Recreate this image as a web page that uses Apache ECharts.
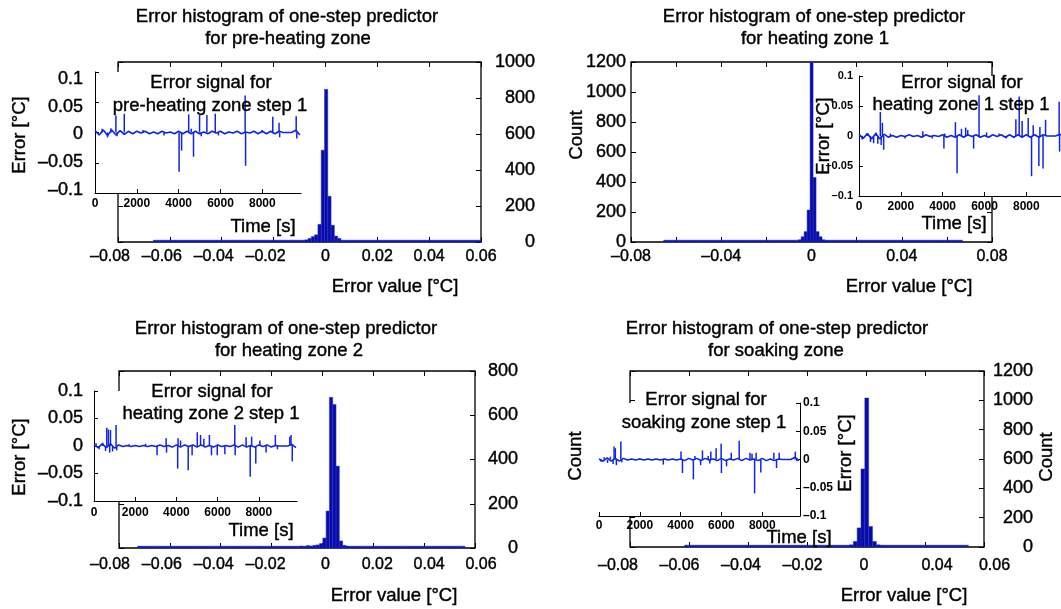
<!DOCTYPE html>
<html>
<head>
<meta charset="utf-8">
<script src="https://cdn.jsdelivr.net/npm/echarts@6/dist/echarts.min.js"></script>
<style>
  html, body { margin: 0; padding: 0; background: #fff; }
  #chart { width: 1061px; height: 609px; }
</style>
</head>
<body>
<div id="chart"></div>
<script>
// ---- data ----
const timeTicks = [0, 2000, 4000, 6000, 8000];
const errTicks = [-0.1, -0.05, 0, 0.05, 0.1];
const baseT = [0, 200, 400, 600, 800, 1000, 1200, 1400, 1600, 1800, 2000, 2200, 2400, 2600, 2800,
  3000, 3200, 3400, 3600, 3800, 4000, 4200, 4400, 4600, 4800, 5000, 5200, 5400, 5600, 5800,
  6000, 6200, 6400, 6600, 6800, 7000, 7200, 7400, 7600, 7800, 8000, 8200, 8400, 8600, 8800,
  9000, 9200, 9400, 9600, 9800];

// pre-heating zone
const xTicks1 = [-0.08, -0.06, -0.04, -0.02, 0, 0.02, 0.04, 0.06];
const yTicks1 = [0, 200, 400, 600, 800, 1000];
const binStart1 = -0.0664, binWidth1 = 0.00127;
const counts1 = [1, 0, 0, 1, 0, 0, 0, 1, 0, 0, 0, 1, 0, 0, 0, 0, 1, 0, 0, 0,
  0, 0, 1, 0, 0, 0, 0, 1, 0, 0, 0, 1, 0, 0, 1, 0, 0, 1, 0, 1,
  1, 2, 2, 3, 5, 8, 12, 20, 30, 40, 98, 510, 848, 254, 93, 33, 20, 10, 6, 7,
  5, 6, 4, 3, 2, 2, 1, 1, 2, 1, 0, 1, 0, 0, 1, 0, 0, 1, 0, 0,
  0, 0, 1, 0, 0, 0, 1, 0, 0, 0, 1, 0, 0, 0, 0, 1, 0, 0, 0, 1];
const base1 = [0.003, -0.004, 0.004, -0.005, 0.004, -0.004, 0.003, -0.003, 0.002, -0.002,
  0.002, -0.001, 0.002, -0.002, 0.001, -0.002, 0.002, -0.001, 0.001, -0.002,
  0.002, -0.002, 0.002, -0.002, 0.002, -0.002, 0.001, -0.002, 0.002, -0.001,
  0.002, -0.002, 0.001, -0.001, 0.002, -0.002, 0.001, -0.001, 0.002, -0.002,
  0.002, -0.002, 0.002, -0.002, 0.002, 0, 0, 0, 0.004, -0.004];
const spikes1 = [[340, 0.006], [600, -0.008], [760, 0.007], [1000, 0.028], [1050, -0.006],
  [1400, 0.031], [2300, 0.004], [3300, -0.005], [4020, -0.065], [4140, -0.030], [4480, 0.030],
  [4600, 0.006], [4710, -0.040], [5000, 0.029], [5080, -0.006], [5350, 0.029], [5750, 0.031],
  [5900, -0.005], [7180, 0.061], [7200, -0.055], [8000, 0.004], [8500, 0.026], [8800, 0.016],
  [8830, -0.008], [9620, 0.027], [9650, -0.010]];

// heating zone 1
const xTicks2 = [-0.08, -0.06, -0.04, -0.02, 0, 0.02, 0.04, 0.06, 0.08];
const xLabels2 = [-0.08, -0.04, 0, 0.04, 0.08];
const yTicks2 = [0, 200, 400, 600, 800, 1000, 1200];
const binStart2 = -0.0655, binWidth2 = 0.001324;
const counts2 = [1, 0, 0, 0, 1, 0, 0, 0, 0, 1, 0, 0, 0, 1, 0, 0, 0, 0, 1, 0,
  0, 0, 1, 0, 0, 0, 0, 1, 0, 0, 1, 0, 0, 0, 1, 0, 0, 1, 0, 1,
  1, 2, 3, 5, 8, 15, 35, 69, 213, 1290, 430, 69, 35, 15, 8, 5, 4, 3, 2, 1,
  1, 0, 1, 0, 0, 1, 0, 0, 0, 1, 0, 0, 1, 0, 0, 0, 1, 0, 0, 0,
  0, 1, 0, 0, 0, 1, 0, 0, 1, 0, 0, 0, 0, 1, 0, 0, 0, 1, 0, 1];
const base2 = [0.003, -0.004, 0.004, -0.005, 0.004, -0.005, 0.003, -0.002, 0.001, -0.002,
  0.001, -0.001, 0.002, -0.001, 0.001, -0.002, 0.002, -0.001, 0.001, -0.001,
  0.002, -0.002, 0.001, -0.002, 0.002, -0.002, 0.002, -0.001, 0.002, -0.002,
  0.001, -0.002, 0.002, -0.001, 0.002, -0.002, 0.002, -0.002, 0.002, -0.002,
  0.002, -0.002, 0.002, -0.002, 0.002, 0, 0, 0, 0.003, -0.003];
const spikes2 = [[150, -0.006], [400, 0.005], [550, -0.010], [700, -0.012], [820, 0.006],
  [900, -0.013], [1020, 0.040], [1060, -0.015], [1120, 0.022], [1180, -0.023], [1500, 0.004],
  [2200, -0.004], [3050, 0.008], [3500, -0.004], [4060, -0.021], [4100, 0.004], [4610, 0.023],
  [4690, -0.062], [4900, 0.012], [5100, 0.014], [5200, 0.010], [5480, -0.021], [5740, 0.068],
  [6100, 0.006], [6700, 0.004], [7050, -0.004], [7500, 0.028], [7660, 0.066], [7800, 0.025],
  [8090, 0.030], [8250, -0.067], [8330, 0.018], [8600, -0.050], [8650, 0.015], [8800, -0.054],
  [8920, 0.027], [9570, 0.057], [9590, -0.026]];

// heating zone 2
const xTicks3 = [-0.08, -0.06, -0.04, -0.02, 0, 0.02, 0.04, 0.06];
const yTicks3 = [0, 200, 400, 600, 800];
const binStart3 = -0.07265, binWidth3 = 0.0013;
const counts3 = [1, 0, 0, 1, 0, 0, 0, 1, 0, 0, 0, 0, 1, 0, 0, 0, 1, 0, 0, 0,
  1, 0, 0, 0, 0, 1, 0, 0, 1, 0, 0, 4, 1, 0, 0, 1, 0, 1, 0, 1,
  0, 1, 1, 0, 2, 1, 2, 3, 6, 9, 8, 11, 9, 12, 14, 20, 45, 167, 681, 649,
  370, 32, 12, 9, 8, 6, 7, 5, 6, 4, 5, 3, 4, 3, 2, 1, 1, 0, 1, 0,
  0, 1, 0, 0, 0, 1, 0, 0, 1, 0, 0, 0, 1, 0, 0, 0, 1, 0, 1];
const base3 = [0.002, -0.003, 0.004, -0.003, 0.004, -0.004, 0.002, -0.001, 0.001, -0.001,
  0.001, -0.001, 0.001, -0.001, 0.001, -0.001, 0.002, -0.001, 0.001, -0.002,
  0.002, -0.002, 0.002, -0.001, 0.002, -0.002, 0.002, -0.002, 0.001, -0.002,
  0.002, -0.001, 0.001, -0.001, 0.002, -0.002, 0.002, -0.002, 0.001, -0.002,
  0.002, -0.001, 0.002, -0.002, 0.001, 0, 0, 0, 0.003, -0.003];
const spikes3 = [[100, 0.005], [250, -0.006], [420, 0.006], [560, -0.009], [620, 0.033],
  [700, 0.030], [760, -0.012], [800, 0.029], [900, -0.010], [1070, 0.038], [1100, -0.008],
  [1700, 0.003], [2500, 0.004], [3060, -0.017], [3500, 0.014], [3520, -0.012], [4060, -0.041],
  [4080, 0.014], [4200, 0.010], [4570, -0.044], [4760, -0.017], [5010, 0.025], [5170, 0.020],
  [5330, 0.013], [5600, 0.020], [5700, -0.017], [5980, -0.017], [6350, -0.015], [6830, 0.038],
  [6850, -0.017], [7380, 0.016], [7580, -0.056], [7650, 0.017], [7850, -0.032], [8050, 0.010],
  [8350, -0.012], [8800, 0.020], [8900, -0.006], [9500, 0.017], [9560, 0.020], [9620, -0.028]];

// soaking zone
const xTicks4 = [-0.08, -0.06, -0.04, -0.02, 0, 0.02, 0.04];
const xLabels4a = [-0.08, -0.06, -0.04, -0.02, 0];
const xLabels4b = [0.04, 0.06];
const yTicks4 = [0, 200, 400, 600, 800, 1000, 1200];
const binStart4 = -0.0615, binWidth4 = 0.0013;
const counts4 = [1, 0, 0, 1, 0, 0, 0, 1, 0, 0, 0, 1, 0, 0, 0, 0, 1, 0, 0, 0,
  1, 0, 0, 0, 1, 0, 0, 1, 0, 0, 0, 1, 0, 0, 1, 0, 1, 0, 1, 1,
  2, 4, 8, 15, 38, 130, 532, 1016, 140, 38, 15, 8, 6, 4, 3, 2, 2, 1, 1, 0,
  1, 0, 0, 1, 0, 0, 0, 1, 0, 0, 1, 0, 0, 1];
const base4 = [0.001, -0.003, 0.003, -0.003, 0.002, -0.003, 0.002, -0.001, 0.001, -0.001,
  0.001, -0.001, 0.001, -0.001, 0.001, -0.001, 0.001, -0.001, 0.001, -0.001,
  0.001, -0.002, 0.002, -0.001, 0.002, -0.002, 0.002, -0.001, 0.001, -0.002,
  0.002, -0.002, 0.001, -0.001, 0.002, -0.002, 0.002, -0.001, 0.001, -0.002,
  0.002, -0.002, 0.001, -0.002, 0.001, 0, 0, 0, 0.004, -0.002];
const spikes4 = [[100, -0.004], [250, 0.004], [420, -0.006], [560, 0.005], [690, -0.008],
  [740, 0.023], [800, 0.020], [850, -0.010], [1070, 0.032], [1120, -0.005], [2000, 0.002],
  [3150, -0.009], [4020, 0.014], [4090, -0.024], [4625, -0.035], [4700, 0.006], [4980, -0.010],
  [5070, 0.016], [5350, 0.006], [5430, -0.007], [5480, 0.014], [5740, 0.020], [5985, 0.028],
  [6000, -0.024], [6250, -0.012], [6480, 0.012], [6870, 0.033], [7400, 0.012], [7500, 0.010],
  [7625, -0.060], [7700, 0.012], [7930, -0.023], [8570, 0.012], [8700, -0.015], [8830, 0.012],
  [9620, 0.014], [9700, -0.003]];

// ---- drawing ----
const font = '"Liberation Sans", Arial, Helvetica, sans-serif';
const barFill = '#0b0ba6';
const barEdge = '#1f33d2';
const lineBlue = '#1024e6';
// the original's text is a little heavier than a plain regular face
const ink = { color: '#000', textBorderColor: '#000', textBorderWidth: 0.4 };

const grids = [], xAxes = [], yAxes = [], series = [], texts = [];

function addGrid(g) {
  grids.push(Object.assign({ containLabel: false, outerBoundsMode: 'none' }, g));
  return grids.length - 1;
}
function addX(a) { xAxes.push(a); return xAxes.length - 1; }
function addY(a) { yAxes.push(a); return yAxes.length - 1; }

function fmt(v) {
  if (Math.abs(v) < 1e-9) return '0';
  const s = String(+Math.abs(v).toFixed(3));
  return v < 0 ? '\u2013' + s : s;
}
// negative labels sit a bit left of their tick in the original
function fmtShift(v) {
  const s = fmt(v);
  return v < -1e-9 ? '{n|' + s + '}' : s;
}
function plain(v) { return String(v); }

function bins(start, width, counts) {
  return counts.map((c, i) => [start + i * width, start + (i + 1) * width, c]);
}

function renderBin(params, api) {
  const cs = params.coordSys;
  const a = api.coord([api.value(0), 0]);
  const b = api.coord([api.value(1), api.value(2)]);
  const x0 = Math.max(a[0], cs.x);
  const x1 = Math.min(b[0], cs.x + cs.width);
  if (x1 <= x0) return;
  const top = Math.max(b[1], cs.y);
  const h = Math.max(a[1] - top, 1.8); // empty bins still show as a thin edge
  return {
    type: 'rect',
    shape: { x: x0, y: a[1] - h, width: x1 - x0, height: h },
    style: { fill: barFill, stroke: barEdge, lineWidth: 0.5 }
  };
}

const hidden = { show: false, onZero: false };
const tick = (vals, len) => ({ show: true, inside: true, length: len, customValues: vals, lineStyle: { color: '#000', width: 1 } });
const richNeg = { n: Object.assign({ fontSize: 16, fontFamily: font, padding: [0, 16, 0, 0] }, ink) };

function histPanel(p) {
  const gi = addGrid({ left: p.left, top: p.top, width: p.width, height: p.height, show: true,
    borderColor: '#000', borderWidth: 1.3, backgroundColor: 'transparent', z: 1 });
  let label = { show: false };
  if (p.xLabels) {
    label = Object.assign({ show: true, customValues: p.xLabels, margin: p.xMargin, fontSize: 16,
      fontFamily: font, formatter: p.shiftNeg ? fmtShift : fmt, rich: richNeg }, ink);
  }
  const xi = addX({ type: 'value', gridIndex: gi, min: p.xMin, max: p.xMax, position: 'bottom', z: 1,
    axisLine: hidden, splitLine: { show: false }, axisTick: tick(p.xTicks, 5), axisLabel: label });
  addX({ type: 'value', gridIndex: gi, min: p.xMin, max: p.xMax, position: 'top', z: 1,
    axisLine: hidden, splitLine: { show: false }, axisTick: tick(p.xTicks, 5), axisLabel: { show: false } });
  const yi = addY({ type: 'value', gridIndex: gi, min: 0, max: p.yMax, position: p.ySide, z: 1,
    axisLine: hidden, splitLine: { show: false }, axisTick: tick(p.yTicks, 5),
    axisLabel: Object.assign({ show: true, customValues: p.yTicks, margin: p.yMargin, align: 'right',
      fontSize: 18, fontFamily: font, formatter: plain }, ink) });
  addY({ type: 'value', gridIndex: gi, min: 0, max: p.yMax, position: p.ySide === 'left' ? 'right' : 'left', z: 1,
    axisLine: hidden, splitLine: { show: false }, axisTick: tick(p.yTicks, 5), axisLabel: { show: false } });
  series.push({ type: 'custom', xAxisIndex: xi, yAxisIndex: yi, z: 2, renderItem: renderBin,
    data: bins(p.binStart, p.binWidth, p.counts) });
}

// extra axis carrying only tick labels where the original labels drift off the box ticks
function labelAxis(p) {
  const gi = addGrid({ left: p.left, top: p.top, width: p.width, height: p.height, show: false });
  addX({ type: 'value', gridIndex: gi, min: p.min, max: p.max, position: 'bottom', z: 3,
    axisLine: hidden, axisTick: { show: false }, splitLine: { show: false },
    axisLabel: Object.assign({ show: true, customValues: p.values, margin: p.margin, fontSize: 16,
      fontFamily: font, formatter: p.shiftNeg ? fmtShift : fmt, rich: richNeg }, ink) });
  addY({ type: 'value', gridIndex: gi, min: 0, max: 1, show: false });
}

function insetPanel(p) {
  const gi = addGrid({ left: p.left, top: p.top, width: p.width, height: p.height, show: true,
    backgroundColor: '#fff', borderWidth: 0, z: 5 });
  const axLine = { show: true, onZero: false, lineStyle: { color: '#000', width: 1 } };
  const big = p.yFont >= 16;
  const yLabel = Object.assign({ show: true, customValues: errTicks, margin: p.yMargin, fontSize: p.yFont,
    fontWeight: big ? 'normal' : 'bold', fontFamily: font, formatter: fmt,
    align: p.ySide === 'right' ? 'left' : 'right' }, big ? ink : { color: '#000' });
  const xi = addX({ type: 'value', gridIndex: gi, min: 0, max: 9850, position: 'bottom', z: 6,
    axisLine: axLine, splitLine: { show: false }, axisTick: tick(timeTicks, 4),
    axisLabel: { show: true, customValues: timeTicks, margin: p.xMargin, color: '#000', fontSize: 12,
      fontWeight: 'bold', fontFamily: font, formatter: plain } });
  const yi = addY({ type: 'value', gridIndex: gi, min: -0.1, max: 0.1, position: p.ySide, z: 6,
    axisLine: axLine, splitLine: { show: false }, axisTick: tick(errTicks, 4),
    axisLabel: p.labelRange ? { show: false } : yLabel });
  if (p.labelRange) {
    // the original's tick labels are squeezed a little closer than its ticks
    addY({ type: 'value', gridIndex: gi, min: p.labelRange[0], max: p.labelRange[1], position: p.ySide, z: 6,
      axisLine: hidden, axisTick: { show: false }, splitLine: { show: false }, axisLabel: yLabel });
  }
  series.push({ type: 'line', xAxisIndex: xi, yAxisIndex: yi, z: 7, symbol: 'none', clip: true,
    lineStyle: { color: lineBlue, width: 1.6 }, data: baseT.map((t, i) => [t, p.base[i]]) });
  series.push({ type: 'bar', xAxisIndex: xi, yAxisIndex: yi, z: 7, barWidth: 1.5,
    itemStyle: { color: lineBlue }, data: p.spikes });
}

function text(str, x, y, rot) {
  texts.push({ type: 'text', x: x, y: y, rotation: rot ? Math.PI / 2 : 0, z: 100,
    style: { text: str, fill: '#000', stroke: '#000', lineWidth: 0.4, font: '18.5px ' + font,
      align: 'center', verticalAlign: 'middle' } });
}

// top-left: pre-heating zone
histPanel({ left: 118, top: 62, width: 363, height: 180, xMin: -0.08, xMax: 0.06, xTicks: xTicks1,
  xLabels: xTicks1, xMargin: 7, shiftNeg: true, yMax: 1000, yTicks: yTicks1, ySide: 'right', yMargin: 54,
  binStart: binStart1, binWidth: binWidth1, counts: counts1 });
insetPanel({ left: 95, top: 72, width: 206, height: 121, ySide: 'left', yMargin: 12, yFont: 18, xMargin: 5,
  labelRange: [-0.1054, 0.1126], base: base1, spikes: spikes1 });
text('Error histogram of one-step predictor', 287, 17);
text('for pre-heating zone', 288, 39);
text('Error signal for', 211, 83);
text('pre-heating zone step 1', 210, 106);
text('Time [s]', 263, 227);
text('Error value [\u00b0C]', 395, 287);
text('Error [\u00b0C]', 20, 135, true);

// top-right: heating zone 1
histPanel({ left: 631, top: 62, width: 361, height: 180, xMin: -0.08, xMax: 0.08, xTicks: xTicks2,
  xLabels: xLabels2, xMargin: 7, shiftNeg: false, yMax: 1200, yTicks: yTicks2, ySide: 'left', yMargin: 5,
  binStart: binStart2, binWidth: binWidth2, counts: counts2 });
insetPanel({ left: 859, top: 76, width: 206, height: 120, ySide: 'left', yMargin: 6, yFont: 11, xMargin: 5,
  base: base2, spikes: spikes2 });
text('Error histogram of one-step predictor', 814, 17);
text('for heating zone 1', 815, 39);
text('Error signal for', 962, 83);
text('heating zone 1 step 1', 961, 105);
text('Time [s]', 954, 224);
text('Error value [\u00b0C]', 909, 287);
text('Count', 577, 135, true);
text('Error [\u00b0C]', 824, 136, true);

// bottom-left: heating zone 2
histPanel({ left: 119, top: 371, width: 356, height: 177, xMin: -0.08, xMax: 0.06, xTicks: xTicks3,
  xLabels: null, yMax: 800, yTicks: yTicks3, ySide: 'right', yMargin: 43,
  binStart: binStart3, binWidth: binWidth3, counts: counts3 });
labelAxis({ left: 118, top: 371, width: 363, height: 177, min: -0.08, max: 0.06, values: xTicks3,
  margin: 9, shiftNeg: true });
insetPanel({ left: 94, top: 391, width: 203, height: 110, ySide: 'left', yMargin: 11, yFont: 18, xMargin: 6,
  base: base3, spikes: spikes3 });
text('Error histogram of one-step predictor', 286, 329);
text('for heating zone 2', 289, 351);
text('Error signal for', 212, 392);
text('heating zone 2 step 1', 211, 414);
text('Time [s]', 261, 531);
text('Error value [\u00b0C]', 394, 596);
text('Error [\u00b0C]', 20, 457, true);

// bottom-right: soaking zone
histPanel({ left: 630, top: 371, width: 354, height: 176, xMin: -0.08, xMax: 0.04, xTicks: xTicks4,
  xLabels: null, yMax: 1200, yTicks: yTicks4, ySide: 'right', yMargin: 49,
  binStart: binStart4, binWidth: binWidth4, counts: counts4 });
labelAxis({ left: 618, top: 371, width: 246, height: 176, min: -0.08, max: 0, values: xLabels4a, margin: 11 });
labelAxis({ left: 937, top: 371, width: 57.5, height: 176, min: 0.04, max: 0.06, values: xLabels4b, margin: 11 });
insetPanel({ left: 599, top: 403, width: 201, height: 113, ySide: 'right', yMargin: 3, yFont: 12, xMargin: 4,
  base: base4, spikes: spikes4 });
text('Error histogram of one-step predictor', 777, 329);
text('for soaking zone', 776, 351);
text('Error signal for', 706, 400);
text('soaking zone step 1', 704, 423);
text('Time [s]', 799, 538);
text('Error value [\u00b0C]', 904, 596);
text('Error [\u00b0C]', 846, 453, true);
text('Count', 576, 456, true);
text('Count', 1047, 457, true);

const chart = echarts.init(document.getElementById('chart'), null, { renderer: 'canvas' });
chart.setOption({
  animation: false,
  backgroundColor: '#fff',
  textStyle: { fontFamily: font },
  grid: grids,
  xAxis: xAxes,
  yAxis: yAxes,
  series: series,
  graphic: texts
});
window.onresize = function () {
  chart.resize();
};
</script>
</body>
</html>
